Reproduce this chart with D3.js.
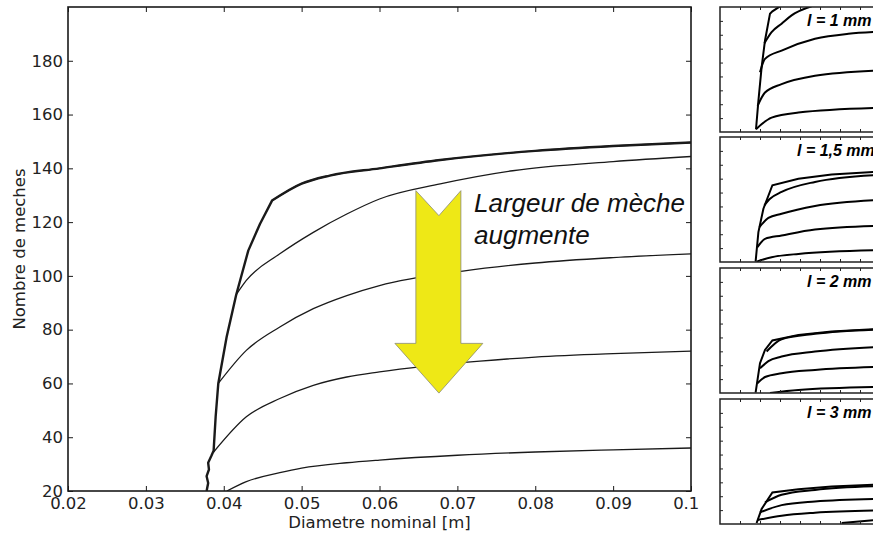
<!DOCTYPE html>
<html>
<head>
<meta charset="utf-8">
<script src="https://cdn.jsdelivr.net/npm/d3@7"></script>
<style>
  html, body { margin: 0; padding: 0; background: #fff; }
  svg { display: block; }
</style>
</head>
<body>
<div id="chart"></div>
<script>
// ---- data ----
const xTicks = [0.02, 0.03, 0.04, 0.05, 0.06, 0.07, 0.08, 0.09, 0.10];
const yTicks = [20, 40, 60, 80, 100, 120, 140, 160, 180];

// envelope (thick): steep rise up to the corner, then follows the narrowest wick (wick1)
const envelopeRise = [[0.0378, 20], [0.0380, 23], [0.0378, 25.5], [0.0381, 28], [0.0380, 30.5],
  [0.0384, 33], [0.0387, 35], [0.03896, 47.6], [0.0393, 60], [0.04037, 77.3], [0.0416, 93],
  [0.04315, 109.4], [0.04465, 119.3], [0.0462, 128]];

const wick1 = [[0.0462, 128], [0.050, 134.3], [0.0536, 137.3], [0.060, 140], [0.0678, 143.1],
  [0.080, 146.5], [0.090, 148.3], [0.100, 149.6]];
const wick2 = [[0.0416, 93], [0.0429, 98.3], [0.0472, 108.2], [0.0515, 116.2], [0.0558, 123],
  [0.0600, 128.6], [0.0678, 134.2], [0.0771, 139.1], [0.090, 142.5], [0.100, 144.4]];
const wick3 = [[0.0393, 60], [0.0429, 72.3], [0.0472, 81], [0.0515, 87.8], [0.0558, 92.7],
  [0.0600, 96.4], [0.0707, 101.8], [0.080, 104.8], [0.090, 106.8], [0.100, 108.2]];
const wick4 = [[0.0387, 34.5], [0.0429, 47.6], [0.0472, 54.4], [0.0515, 59.3], [0.0558, 62.4],
  [0.0600, 64.3], [0.0729, 68.3], [0.080, 69.8], [0.090, 71.1], [0.100, 72]];
const wick5 = [[0.0404, 20], [0.0429, 23.5], [0.0472, 26.8], [0.050, 28.5], [0.0558, 30.5],
  [0.0600, 31.5], [0.070, 33.3], [0.080, 34.5], [0.090, 35.3], [0.100, 36]];

// small panels on the right: [envelope, wick2..wick5]
const panelLabels = ['l = 1 mm', 'l = 1,5 mm', 'l = 2 mm', 'l = 3 mm'];
const panel1 = [
  [[0.038, 24], [0.0392, 64.9], [0.0408, 113], [0.0425, 151.8], [0.045, 190.4], [0.0462, 193.8], [0.050, 201]],
  [[0.0422, 147.9], [0.0458, 163.8], [0.0508, 176], [0.0558, 188], [0.0658, 201]],
  [[0.040, 105.9], [0.0425, 125.3], [0.0508, 137.3], [0.0675, 154.2], [0.0842, 161.5], [0.100, 164.3]],
  [[0.0388, 57.6], [0.0425, 76.9], [0.0508, 89], [0.0675, 101.1], [0.100, 108.8]],
  [[0.038, 24], [0.0458, 40.7], [0.0592, 48], [0.100, 54.8]]
];
const panel2 = [
  [[0.0378, 20.6], [0.0392, 63], [0.0417, 96.7], [0.0462, 130.5], [0.0592, 140], [0.0758, 145.9], [0.100, 150.3]],
  [[0.0422, 101.6], [0.045, 111], [0.0508, 120.9], [0.0675, 135.3], [0.100, 145.5]],
  [[0.0397, 70.2], [0.0442, 83.5], [0.0508, 89.5], [0.0675, 100.6], [0.100, 109.4]],
  [[0.0387, 41.3], [0.0425, 53.3], [0.0508, 58.2], [0.0675, 66.9], [0.100, 72.2]],
  [[0.0383, 20.6], [0.0458, 26.8], [0.0592, 31.6], [0.100, 37]]
];
const panel3 = [
  [[0.0378, 20.6], [0.040, 62.9], [0.0425, 82], [0.0462, 95.6], [0.0592, 103.7], [0.0758, 108.6], [0.100, 112.5]],
  [[0.0433, 79.7], [0.0508, 97.5], [0.0675, 105.2], [0.100, 111.5]],
  [[0.040, 55.6], [0.0442, 66], [0.0508, 72.5], [0.0675, 79.7], [0.100, 86.5]],
  [[0.0387, 34], [0.0425, 43], [0.0508, 48.4], [0.0675, 53.2], [0.100, 57.6]],
  [[0.045, 20], [0.0592, 24.3], [0.100, 28.7]]
];
const panel4 = [
  [[0.0383, 21.4], [0.0408, 41.5], [0.0462, 65.4], [0.0592, 70.1], [0.0758, 74], [0.100, 76.8]],
  [[0.0425, 51.1], [0.0508, 62], [0.0675, 69.1], [0.100, 74.5]],
  [[0.040, 36.8], [0.0508, 47.2], [0.0675, 52.5], [0.100, 56.3]],
  [[0.0388, 25.7], [0.0508, 31.9], [0.0675, 36.2], [0.100, 39.5]],
  [[0.0808, 21.4], [0.100, 26.2]]
];
const panels = [panel1, panel2, panel3, panel4];

// ---- layout ----
const W = 873, H = 534;
const plot = { left: 68, right: 691, top: 7, bottom: 491 };
const ink = '#1a1a1a';

const svg = d3.select('#chart').append('svg')
  .attr('width', W).attr('height', H)
  .style('font-family', '"DejaVu Sans", sans-serif');

const x = d3.scaleLinear().domain([0.02, 0.10]).range([plot.left, plot.right]);
const y = d3.scaleLinear().domain([20, 200]).range([plot.bottom, plot.top]);

svg.append('clipPath').attr('id', 'mainClip')
  .append('rect')
  .attr('x', plot.left).attr('y', plot.top)
  .attr('width', plot.right - plot.left).attr('height', plot.bottom - plot.top);

const smooth = d3.line().x(d => x(d[0])).y(d => y(d[1])).curve(d3.curveMonotoneX);
const straight = d3.line().x(d => x(d[0])).y(d => y(d[1]));

const curves = svg.append('g').attr('clip-path', 'url(#mainClip)');

[wick1, wick2, wick3, wick4, wick5].forEach(w => {
  curves.append('path')
    .datum(w)
    .attr('d', smooth)
    .attr('fill', 'none')
    .attr('stroke', ink)
    .attr('stroke-width', 1.3);
});

// thick envelope: rise + top wick
curves.append('path')
  .attr('d', straight(envelopeRise) + smooth(wick1).replace(/^M/, 'L'))
  .attr('fill', 'none')
  .attr('stroke', ink)
  .attr('stroke-width', 2.4)
  .attr('stroke-linejoin', 'round');

// arrow annotation (data coordinates)
const arrowPts = [[0.06467, 131.7], [0.06763, 122.4], [0.07045, 131.7], [0.07045, 74.9],
  [0.07327, 74.9], [0.06763, 56.4], [0.06198, 74.9], [0.06467, 74.9]];
svg.append('polygon')
  .attr('points', arrowPts.map(p => `${x(p[0])},${y(p[1])}`).join(' '))
  .attr('fill', '#eee816')
  .attr('stroke', '#8a8a70')
  .attr('stroke-width', 0.8);

const note = svg.append('text')
  .style('font-family', '"Liberation Sans", Arial, sans-serif')
  .style('font-style', 'italic')
  .style('font-size', '26px')
  .attr('fill', '#111');
note.append('tspan').attr('x', 474).attr('y', 212).text('Largeur de mèche');
note.append('tspan').attr('x', 474).attr('y', 244).text('augmente');

// axes (ticks inside, on all four sides)
const xAxis = svg.append('g')
  .attr('transform', `translate(0,${plot.bottom})`)
  .call(d3.axisBottom(x).tickValues(xTicks).tickFormat(d3.format('.2f')).tickSize(-5).tickPadding(6));
const yAxis = svg.append('g')
  .attr('transform', `translate(${plot.left},0)`)
  .call(d3.axisLeft(y).tickValues(yTicks).tickFormat(d3.format('d')).tickSize(-5).tickPadding(5));
svg.append('g')
  .attr('transform', `translate(0,${plot.top})`)
  .call(d3.axisTop(x).tickValues(xTicks).tickFormat('').tickSize(-5));
svg.append('g')
  .attr('transform', `translate(${plot.right},0)`)
  .call(d3.axisRight(y).tickValues(yTicks).tickFormat('').tickSize(-5));

svg.selectAll('.domain').remove();
svg.selectAll('.tick line').attr('stroke', ink).attr('stroke-width', 1);
[xAxis, yAxis].forEach(a => a.selectAll('.tick text')
  .style('font-size', '16.5px')
  .style('font-family', '"DejaVu Sans", sans-serif')
  .attr('fill', '#222'));

svg.append('rect')
  .attr('x', plot.left).attr('y', plot.top)
  .attr('width', plot.right - plot.left).attr('height', plot.bottom - plot.top)
  .attr('fill', 'none').attr('stroke', ink).attr('stroke-width', 1.6);

svg.append('text')
  .attr('x', (plot.left + plot.right) / 2).attr('y', 528)
  .attr('text-anchor', 'middle')
  .style('font-size', '16.5px')
  .attr('fill', '#222')
  .text('Diametre nominal [m]');

svg.append('text')
  .attr('transform', `translate(25,${(plot.top + plot.bottom) / 2}) rotate(-90)`)
  .attr('text-anchor', 'middle')
  .style('font-size', '16.5px')
  .attr('fill', '#222')
  .text('Nombre de meches');

// ---- right-hand panels ----
svg.append('rect').attr('x', 700).attr('y', 0).attr('width', W - 700).attr('height', H).attr('fill', '#fff');

const panelTops = [7, 137, 268, 399];
const panelH = 125;
const px = d3.scaleLinear().domain([0.02, 0.10]).range([720, 880]);
const pxTicks = d3.range(0.03, 0.1, 0.01);
const pyTicks = d3.range(40, 200, 20);

panels.forEach((series, i) => {
  const top = panelTops[i];
  const py = d3.scaleLinear().domain([20, 200]).range([top + panelH, top]);
  const g = svg.append('g');

  g.append('clipPath').attr('id', `pclip${i}`)
    .append('rect').attr('x', 720).attr('y', top).attr('width', 160).attr('height', panelH);

  const pl = d3.line().x(d => px(d[0])).y(d => py(d[1]));
  series.forEach((s, j) => {
    g.append('path')
      .datum(s)
      .attr('clip-path', `url(#pclip${i})`)
      .attr('d', j === 0 ? pl.curve(d3.curveLinear)(s) : pl.curve(d3.curveMonotoneX)(s))
      .attr('fill', 'none')
      .attr('stroke', '#000')
      .attr('stroke-width', 2);
  });

  g.append('g').attr('transform', `translate(0,${top + panelH})`)
    .call(d3.axisBottom(px).tickValues(pxTicks).tickFormat('').tickSize(-3));
  g.append('g').attr('transform', `translate(0,${top})`)
    .call(d3.axisTop(px).tickValues(pxTicks).tickFormat('').tickSize(-3));
  g.append('g').attr('transform', 'translate(720,0)')
    .call(d3.axisLeft(py).tickValues(pyTicks).tickFormat('').tickSize(-3));
  g.selectAll('.domain').remove();
  g.selectAll('.tick line').attr('stroke', '#222').attr('stroke-width', 1);

  g.append('rect')
    .attr('x', 720).attr('y', top).attr('width', 160).attr('height', panelH)
    .attr('fill', 'none').attr('stroke', '#222').attr('stroke-width', 1.5);

  g.append('text')
    .attr('x', i === 1 ? 797 : 807).attr('y', top + 19)
    .style('font-family', '"Liberation Sans", Arial, sans-serif')
    .style('font-style', 'italic')
    .style('font-weight', 'bold')
    .style('font-size', '16px')
    .attr('fill', '#000')
    .text(panelLabels[i]);
});
</script>
</body>
</html>
